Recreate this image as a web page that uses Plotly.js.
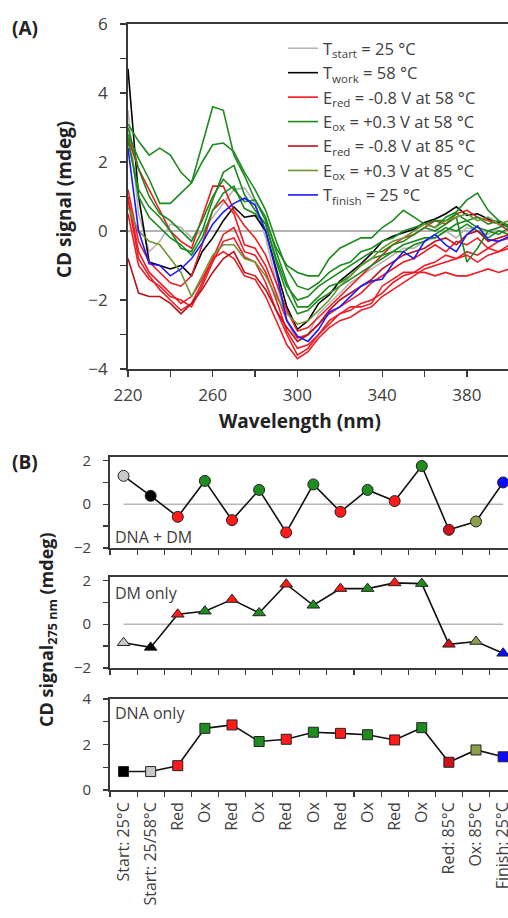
<!DOCTYPE html>
<html><head><meta charset="utf-8">
<script src="https://cdn.plot.ly/plotly-3.0.1.min.js"></script>
<style>html,body{margin:0;padding:0;background:#fff;} #chart{width:508px;height:918px;}</style>
</head><body><div id="chart"></div>
<script>
// ---------- Panel A data ----------
const wavelength = [220,225,230,235,240,245,250,255,260,265,270,275,280,285,290,295,300,305,310,315,320,325,330,335,340,345,350,355,360,365,370,375,380,385,390,395,400];
const tStart  = [3.5,0.5,-0.6,-0.3,0.2,0.1,-0.2,0.0,0.4,0.8,1.2,1.25,0.8,-0.2,-1.5,-2.6,-3.2,-3.0,-2.4,-2.1,-1.8,-1.5,-1.3,-1.1,-0.9,-0.7,-0.5,-0.5,-0.3,-0.2,0.0,-0.2,0.1,0.0,-0.1,0.1,0.2];
const tWork   = [4.7,1.0,-0.9,-1.0,-1.1,-1.0,-1.3,-0.6,-0.2,0.3,0.7,0.4,0.45,0.0,-1.1,-2.2,-2.85,-2.6,-2.1,-1.85,-1.45,-1.2,-0.95,-0.65,-0.3,-0.15,-0.05,0.05,0.25,0.35,0.5,0.7,0.45,0.5,0.35,0.25,0.1];
const red58a  = [2.7,1.8,1.2,0.6,0.0,-0.3,-0.5,0.4,1.3,1.3,0.6,0.15,-0.2,-0.7,-1.5,-2.3,-2.9,-2.8,-2.5,-2.2,-1.9,-1.6,-1.3,-1.0,-0.7,-0.4,-0.2,-0.1,0.1,0.3,0.2,0.5,0.6,0.4,0.3,0.2,0.0];
const red58b  = [1.2,-0.3,-0.9,-1.2,-1.5,-1.6,-1.3,-0.4,0.6,0.9,0.5,-0.4,-0.5,-1.0,-1.8,-2.6,-3.1,-3.0,-2.7,-2.4,-2.2,-2.0,-1.8,-1.5,-1.3,-1.1,-0.9,-0.8,-0.6,-0.4,-0.6,-0.3,-0.4,-0.2,-0.5,-0.3,-0.2];
const red58c  = [0.9,-0.8,-1.3,-1.7,-2.0,-2.3,-2.1,-1.5,-0.8,-0.1,0.1,-0.6,-0.7,-1.2,-2.0,-2.9,-3.4,-3.3,-3.0,-2.7,-2.4,-2.3,-2.1,-2.0,-1.8,-1.5,-1.3,-1.2,-1.0,-0.9,-0.7,-0.8,-0.6,-0.7,-0.5,-0.6,-0.4];
const red58d  = [0.5,-1.0,-1.4,-1.6,-1.9,-2.0,-2.2,-1.6,-0.9,-0.3,-0.2,-0.75,-0.9,-1.5,-2.3,-3.0,-3.6,-3.4,-3.0,-2.6,-2.4,-2.2,-2.2,-2.1,-1.6,-1.4,-1.2,-1.2,-1.2,-1.3,-1.2,-1.3,-1.3,-1.2,-1.1,-1.2,-1.1];
const red58e  = [1.0,-0.6,-1.2,-1.5,-1.8,-2.1,-1.9,-1.4,-0.8,-0.6,-0.8,-1.3,-1.4,-1.9,-2.6,-3.3,-3.7,-3.5,-3.1,-2.8,-2.6,-2.5,-2.3,-2.2,-1.9,-1.7,-1.5,-1.3,-1.1,-1.0,-0.9,-0.8,-0.7,-0.9,-0.7,-0.6,-0.5];
const ox58a   = [3.1,2.6,2.2,2.4,2.2,1.7,1.4,2.5,3.6,3.5,2.2,1.6,0.9,0.3,-0.5,-1.0,-1.2,-1.3,-1.3,-0.8,-0.5,-0.35,-0.2,-0.2,0.1,0.3,0.6,0.4,0.2,0.1,0.4,0.55,0.9,1.1,0.6,0.3,0.15];
const ox58b   = [2.8,2.1,1.5,0.8,0.8,1.1,1.4,2.0,2.5,2.55,2.3,1.7,1.2,0.6,-0.3,-1.1,-1.6,-1.7,-1.5,-1.2,-1.0,-0.9,-0.6,-0.5,-0.3,-0.2,0.0,0.1,0.2,0.3,0.3,0.5,0.3,0.4,0.2,0.3,0.1];
const ox58c   = [2.6,1.2,0.7,0.4,0.0,-0.5,-0.6,0.0,0.9,1.7,1.9,1.05,0.6,0.2,-0.8,-1.6,-2.0,-1.9,-1.6,-1.4,-1.2,-1.0,-0.8,-0.6,-0.6,-0.4,-0.3,-0.1,0.1,0.0,0.2,0.4,-0.9,-0.5,0.0,0.1,0.2];
const ox58d   = [3.0,1.8,1.0,0.5,0.3,0.0,-0.3,0.3,1.0,1.5,1.2,0.85,0.9,0.4,-0.6,-1.5,-2.2,-2.2,-1.9,-1.6,-1.5,-1.3,-1.0,-0.8,-0.7,-0.6,-0.4,-0.3,-0.2,-0.2,0.0,0.2,0.3,0.1,0.0,-0.1,0.1];
const ox58e   = [2.7,1.0,0.4,0.1,-0.2,-0.4,-0.7,-0.2,0.6,1.1,1.3,0.65,0.5,0.2,-0.9,-1.8,-2.4,-2.3,-2.0,-1.8,-1.6,-1.4,-1.2,-1.0,-0.8,-0.6,-0.6,-0.4,-0.3,-0.1,0.1,0.0,0.2,0.0,-0.2,0.0,-0.1];
const red85   = [-0.8,-1.8,-1.9,-1.9,-2.1,-2.4,-2.1,-1.7,-1.2,-0.8,-0.6,-1.2,-1.3,-1.7,-2.3,-2.8,-3.2,-3.0,-2.7,-2.3,-2.0,-1.8,-1.6,-1.4,-1.1,-0.9,-0.7,-0.6,-0.5,-0.3,-0.2,-0.4,-0.1,0.0,-0.3,-0.2,-0.1];
const ox85    = [0.7,0.0,-0.3,-0.4,-0.8,-1.2,-1.9,-1.3,-0.7,-0.4,-0.4,-0.8,-0.9,-1.3,-1.9,-2.4,-2.7,-2.6,-2.3,-2.0,-1.6,-1.3,-1.0,-0.8,-0.5,-0.3,-0.2,0.0,0.2,0.1,0.3,0.4,0.5,0.3,0.4,0.2,0.3];
const tFinish = [2.4,0.0,-0.95,-1.0,-1.3,-1.1,-0.8,-0.35,0.2,0.55,0.8,0.95,0.75,0.0,-1.2,-2.6,-3.05,-3.2,-2.85,-2.35,-2.2,-1.9,-1.6,-1.45,-1.4,-0.95,-0.6,-0.8,-0.3,-0.1,-0.4,-0.6,-0.1,0.15,-0.25,-0.3,-0.15];
const xTickValsA = [220,260,300,340,380];

// ---------- Panel B data ----------
const steps = ['Start: 25°C','Start: 25/58°C','Red','Ox','Red','Ox','Red','Ox','Red','Ox','Red','Ox','Red: 85°C','Ox: 85°C','Finish: 25°C'];
const stepIndex = [0,1,2,3,4,5,6,7,8,9,10,11,12,13,14];
const dnaDm   = [1.29,0.38,-0.58,1.06,-0.73,0.65,-1.29,0.9,-0.35,0.65,0.14,1.74,-1.17,-0.79,0.99];
const dmOnly  = [-0.85,-1.06,0.45,0.59,1.12,0.51,1.82,0.86,1.62,1.62,1.88,1.85,-0.92,-0.79,-1.33];
const dnaOnly = [0.81,0.81,1.07,2.71,2.86,2.13,2.23,2.54,2.49,2.43,2.2,2.74,1.22,1.76,1.46];

// ---------- styles ----------
const C = {gray:'#b4b4b4', black:'#000000', red:'#ee1c24', green:'#1e8a1e', dred:'#b8141c', olive:'#6e9632', blue:'#1a1aff'};
const M = {gray:'#c8c8c8', black:'#000000', red:'#ff1a1a', green:'#1e8c1e', dred:'#d0101e', olive:'#8aa04a', blue:'#0a0aff'};
const colTopMid = [M.gray,M.black,M.red,M.green,M.red,M.green,M.red,M.green,M.red,M.green,M.red,M.green,M.dred,M.olive,M.blue];
const colBottom = [M.black,M.gray,M.red,M.green,M.red,M.green,M.red,M.green,M.red,M.green,M.red,M.green,M.dred,M.olive,M.blue];

const W = 508, H = 918;
const X = p => p / W;
const Y = p => 1 - p / H;
const FONT = 'Open Sans, sans-serif';
const TXT = '#404040';
const AX = '#3a3a3a';

function lineTrace(y, color, name, show) {
  return {type:'scatter', mode:'lines', x:wavelength, y:y, name:name, showlegend:show,
          line:{color:color, width:1.6}, xaxis:'x', yaxis:'y', hoverinfo:'skip'};
}
const traces = [
  lineTrace(tStart, C.gray, 'T<sub>start</sub> = 25 °C', true),
  lineTrace(tWork, C.black, 'T<sub>work</sub> = 58 °C', true),
  lineTrace(red58a, C.red, 'E<sub>red</sub> = -0.8 V at 58 °C', true),
  lineTrace(ox58a, C.green, 'E<sub>ox</sub> = +0.3 V at 58 °C', true),
  lineTrace(red58b, C.red, '', false),
  lineTrace(ox58b, C.green, '', false),
  lineTrace(red58c, C.red, '', false),
  lineTrace(ox58c, C.green, '', false),
  lineTrace(red58d, C.red, '', false),
  lineTrace(ox58d, C.green, '', false),
  lineTrace(red58e, C.red, '', false),
  lineTrace(ox58e, C.green, '', false),
  lineTrace(red85, C.dred, 'E<sub>red</sub> = -0.8 V at 85 °C', true),
  lineTrace(ox85, C.olive, 'E<sub>ox</sub> = +0.3 V at 85 °C', true),
  lineTrace(tFinish, C.blue, 'T<sub>finish</sub> = 25 °C', true)
];
function stepTrace(y, colors, symbol, size, xa, ya) {
  return {type:'scatter', mode:'lines+markers', x:stepIndex, y:y, showlegend:false,
          line:{color:'#111', width:1.6},
          marker:{symbol:symbol, size:size, color:colors, line:{color:'#222', width:1}},
          xaxis:xa, yaxis:ya, hoverinfo:'skip', cliponaxis:false};
}
traces.push(stepTrace(dnaDm, colTopMid, 'circle', 11, 'x2', 'y2'));
traces.push(stepTrace(dmOnly, colTopMid, 'triangle-up', 11, 'x3', 'y3'));
traces.push(stepTrace(dnaOnly, colBottom, 'square', 10, 'x4', 'y4'));

const bXRange = [-0.5, 14.18];
const bXDomain = [X(110), 1];
function bX(anchor, labels) {
  return {domain:bXDomain, range:bXRange, anchor:anchor, showgrid:false, zeroline:false,
          showline:true, linecolor:AX, linewidth:1.8, mirror:true,
          tickvals:stepIndex, ticktext:steps, ticks:'', showticklabels:labels,
          ticklabeloverflow:'allow', ticklabelstandoff:4,
          tickangle:-90, tickfont:{size:16, color:TXT, family:FONT},
          minor:{tick0:-0.5, dtick:1, ticks:'outside', ticklen:5, tickcolor:AX, tickwidth:1.2}};
}
function bY(anchor, dom, range) {
  return {domain:dom, range:range, anchor:anchor, showgrid:false, zeroline:false,
          showline:true, linecolor:AX, linewidth:1.8,
          tick0:0, dtick:2, ticks:'outside', ticklen:5, tickcolor:AX, tickwidth:1.2,
          ticklabelstandoff:9,
          tickfont:{size:15, color:TXT, family:FONT},
          minor:{dtick:1, ticks:'outside', ticklen:5, tickcolor:AX, tickwidth:1.2}};
}

const layout = {
  width:W, height:H, margin:{l:0, r:0, t:0, b:0},
  paper_bgcolor:'#fff', plot_bgcolor:'rgba(0,0,0,0)',
  font:{family:FONT, color:TXT},
  showlegend:true,
  legend:{x:X(283), y:Y(31), xanchor:'left', yanchor:'top', bgcolor:'rgba(0,0,0,0)',
          font:{size:16.5, color:TXT, family:FONT}, itemwidth:30, tracegroupgap:0},
  xaxis:{domain:[X(128),1], range:[220,399.4], anchor:'y', showgrid:false, zeroline:false,
         showline:true, linecolor:AX, linewidth:1.8, mirror:true,
         tickvals:xTickValsA, ticks:'outside', ticklen:6, tickcolor:AX, tickwidth:1.2,
         ticklabelstandoff:4,
         tickfont:{size:17, color:TXT, family:FONT},
         minor:{tick0:220, dtick:20, ticks:'outside', ticklen:6, tickcolor:AX, tickwidth:1.2}},
  yaxis:{domain:[Y(369), Y(24)], range:[-4,6], anchor:'x', showgrid:false,
         zeroline:true, zerolinecolor:'#b4b4b4', zerolinewidth:1.5,
         showline:true, linecolor:AX, linewidth:1.8,
         tick0:0, dtick:2, ticks:'outside', ticklen:6, tickcolor:AX, tickwidth:1.2,
         ticklabelstandoff:9,
         tickfont:{size:17, color:TXT, family:FONT},
         minor:{dtick:1, ticks:'outside', ticklen:6, tickcolor:AX, tickwidth:1.2}},
  xaxis2:bX('y2', false),
  xaxis3:bX('y3', false),
  xaxis4:bX('y4', true),
  yaxis2:bY('x2', [Y(548), Y(457)], [-2, 2.15]),
  yaxis3:bY('x3', [Y(668), Y(577)], [-2, 2.15]),
  yaxis4:bY('x4', [Y(790), Y(699)], [0, 4]),
  shapes:[
    {type:'line', xref:'x2', yref:'y2', x0:0, x1:14, y0:0, y1:0, layer:'below', line:{color:'#b8b8b8', width:1.5}},
    {type:'line', xref:'x3', yref:'y3', x0:0, x1:14, y0:0, y1:0, layer:'below', line:{color:'#b8b8b8', width:1.5}}
  ],
  annotations:[
    {text:'<b>(A)</b>', xref:'paper', yref:'paper', x:X(10), y:Y(28), xanchor:'left', yanchor:'middle', showarrow:false, font:{size:19, color:'#222'}},
    {text:'<b>(B)</b>', xref:'paper', yref:'paper', x:X(10), y:Y(462), xanchor:'left', yanchor:'middle', showarrow:false, font:{size:19, color:'#222'}},
    {text:'<b>CD signal (mdeg)</b>', xref:'paper', yref:'paper', x:X(64), y:Y(200), xanchor:'center', yanchor:'middle', textangle:-90, showarrow:false, font:{size:19, color:'#222'}},
    {text:'<b>Wavelength (nm)</b>', xref:'paper', yref:'paper', x:X(300), y:Y(421), xanchor:'center', yanchor:'middle', showarrow:false, font:{size:19, color:'#222'}},
    {text:'<b>CD signal<sub>275 nm</sub> (mdeg)</b>', xref:'paper', yref:'paper', x:X(47), y:Y(630), xanchor:'center', yanchor:'middle', textangle:-90, showarrow:false, font:{size:18, color:'#222'}},
    {text:'DNA + DM', xref:'paper', yref:'paper', x:X(113), y:Y(537), xanchor:'left', yanchor:'middle', showarrow:false, font:{size:16, color:TXT}},
    {text:'DM only', xref:'paper', yref:'paper', x:X(113), y:Y(593), xanchor:'left', yanchor:'middle', showarrow:false, font:{size:16, color:TXT}},
    {text:'DNA only', xref:'paper', yref:'paper', x:X(113), y:Y(713), xanchor:'left', yanchor:'middle', showarrow:false, font:{size:16, color:TXT}}
  ]
};
Plotly.newPlot('chart', traces, layout, {staticPlot:true, displayModeBar:false});
</script>
</body></html>
